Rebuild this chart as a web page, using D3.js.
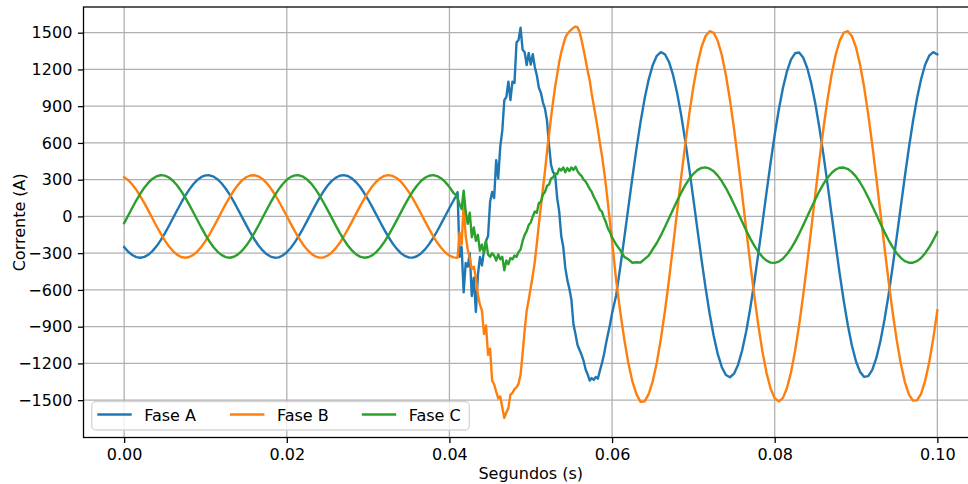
<!DOCTYPE html>
<html><head><meta charset="utf-8">
<script src="https://cdn.jsdelivr.net/npm/d3@7"></script>
<style>
body{margin:0;background:#fff;}
svg{display:block;font-family:"DejaVu Sans",sans-serif;}
</style>
</head><body>
<svg id="chart" width="968" height="484"></svg>
<script>
// ---------- DATA ----------
const seriesNames = ["Fase A", "Fase B", "Fase C"];
const seriesColors = ["#1f77b4", "#ff7f0e", "#2ca02c"];
const xTickValues = [0, 0.02, 0.04, 0.06, 0.08, 0.10];
const yTickValues = [-1500, -1200, -900, -600, -300, 0, 300, 600, 900, 1200, 1500];
const xLabel = "Segundos (s)";
const yLabel = "Corrente (A)";

// sample instants (s): pre-fault, fault transient (finer), post-fault
const timesPre = d3.range(82).map(i => +(i * 0.0005).toFixed(5));
const timesFault = d3.range(78).map(i => +(0.04075 + i * 0.00025).toFixed(5));
const timesPost = d3.range(80).map(i => +(0.0605 + i * 0.0005).toFixed(5));

// Fase A (A)
const faseA_pre = [-250,-288,-315,-332,-337,-330,-311,-281,-242,-193,-138,-78,-15,48,110,167,219,263,298,322,335,336,325,302,269,226,176,119,57,-6,-69,-130,-186,-235,-276,-307,-328,-337,-334,-319,-292,-256,-210,-157,-99,-36,27,90,149,203,
250,288,315,332,337,330,311,281,242,193,138,78,15,-48,-110,-167,-219,-263,-298,-322,-335,-336,-325,-302,-269,-226,-176,-119,-57,6,69,130];
const faseA_fault = [160,198,-330,-250,-620,-380,-410,-300,-650,-500,-780,-480,-330,-400,-280,-200,-160,120,200,150,460,310,570,700,950,975,1100,950,1100,1090,1420,1440,1540,1360,1340,1235,1335,1240,1325,1220,1150,1050,1010,930,880,780,580,420,360,340,150,40,-160,-250,-420,-520,-590,-680,-880,-960,-1050,-1090,-1130,-1180,-1250,-1290,-1340,-1320,-1335,-1310,-1325,-1260,-1200,-1130,-1040,-960,-880,-790];
const faseA_post = [-645,-418,-177,72,318,554,770,960,1117,1235,1311,1341,1324,1261,1155,1008,827,617,386,141,-107,-352,-583,-794,-976,-1124,-1231,-1295,-1313,-1284,-1210,-1093,-937,-747,-531,-296,-50,198,440,667,871,1045,1183,1280,1332,1338,1297,1212,1084,919,722,500,262,14,-233,-472,-694,-891,-1056,-1184,-1269,-1310,-1304,-1252,-1155,-1018,-843,-640,-413,-171,77,324,559,775,965,1120,1238,1312,1341,1323];

// Fase B (A)
const faseB_pre = [321,296,261,217,164,106,45,-19,-82,-141,-196,-244,-283,-312,-331,-337,-331,-314,-286,-247,-200,-146,-86,-24,40,102,160,213,258,294,320,334,336,327,306,274,232,183,126,65,2,-61,-122,-179,-229,-271,-304,-326,-336,-335,
-321,-296,-261,-217,-164,-106,-45,19,82,141,196,244,283,312,331,337,331,314,286,247,200,146,86,24,-40,-102,-160,-213,-258,-294,-320,-334];
const faseB_fault = [-336,-337,-130,-230,100,-160,-270,-340,-430,-410,-500,-640,-720,-770,-960,-890,-1130,-1080,-1340,-1370,-1430,-1485,-1470,-1560,-1645,-1600,-1565,-1455,-1440,-1410,-1395,-1365,-1290,-1120,-930,-770,-680,-580,-480,-370,-220,-60,80,230,370,530,670,810,940,1060,1160,1260,1340,1400,1460,1490,1510,1525,1540,1550,1545,1505,1440,1360,1275,1190,1110,1000,905,810,710,600,500,380,250,100,-50,-200];
const faseB_post = [-519,-775,-1003,-1196,-1347,-1451,-1514,-1510,-1450,-1346,-1195,-1001,-773,-517,-243,40,321,591,840,1060,1243,1382,1473,1512,1499,1432,1316,1153,950,714,452,175,-108,-387,-653,-896,-1107,-1279,-1407,-1484,-1510,-1483,-1403,-1274,-1101,-888,-645,-379,-99,184,461,722,957,1159,1320,1435,1500,1512,1471,1379,1238,1054,833,583,312,30,-252,-526,-780,-1008,-1200,-1350,-1453,-1504,-1502,-1448,-1343,-1191,-997,-767];

// Fase C (A)
const faseC_pre = [-55,8,71,132,187,237,277,308,328,337,333,318,291,254,208,155,96,34,-29,-92,-151,-205,-251,-289,-316,-332,-337,-329,-310,-280,-240,-191,-136,-76,-13,50,112,170,221,265,299,323,335,336,324,301,268,225,174,116,
55,-8,-71,-132,-187,-237,-277,-308,-328,-337,-333,-318,-291,-254,-208,-155,-96,-34,29,92,151,205,251,289,316,332,337,329,310,280,240,191];
const faseC_fault = [180,150,100,60,210,40,-60,30,-170,-90,-200,-150,-280,-230,-300,-200,-310,-330,-300,-320,-360,-310,-350,-330,-440,-360,-390,-340,-350,-320,-330,-290,-270,-200,-150,-120,-70,-50,0,40,30,110,120,180,200,250,260,310,320,350,345,390,375,400,360,395,370,400,380,405,370,345,330,300,285,255,225,200,160,130,95,55,40,-10,-50,-100,-130,-170];
const faseC_post = [-229,-275,-330,-350,-378,-374,-376,-348,-320,-268,-217,-155,-87,-15,57,128,194,255,307,348,378,396,400,390,368,333,287,232,168,100,28,-44,-115,-181,-240,-291,-332,-361,-377,-379,-369,-345,-309,-262,-206,-142,-73,-1,71,141,207,266,316,355,383,398,399,387,362,325,277,220,155,86,14,-58,-128,-193,-251,-300,-338,-365,-378,-378,-365,-339,-300,-252,-194,-129];

// ---------- BUILD ----------
const times = timesPre.concat(timesFault, timesPost);
const seriesValues = [
  faseA_pre.concat(faseA_fault, faseA_post),
  faseB_pre.concat(faseB_fault, faseB_post),
  faseC_pre.concat(faseC_fault, faseC_post)
];

const W = 968, H = 484;
const plot = {left: 83.5, top: 7, right: 978, bottom: 437.5};

const svg = d3.select("#chart");
svg.append("rect").attr("width", W).attr("height", H).attr("fill", "#fff");

const tExt = d3.extent(times);
const tPad = (tExt[1] - tExt[0]) * 0.05;
const allVals = seriesValues.flat();
const vExt = d3.extent(allVals);
const vPad = (vExt[1] - vExt[0]) * 0.05;

const x = d3.scaleLinear().domain([tExt[0] - tPad, tExt[1] + tPad]).range([plot.left, plot.right]);
const y = d3.scaleLinear().domain([vExt[0] - vPad, vExt[1] + vPad]).range([plot.bottom, plot.top]);

svg.append("defs").append("clipPath").attr("id", "clip")
  .append("rect").attr("x", plot.left).attr("y", plot.top)
  .attr("width", plot.right - plot.left).attr("height", plot.bottom - plot.top);

// grid
const grid = svg.append("g");
grid.selectAll("line.gx").data(xTickValues).join("line")
  .attr("x1", d => x(d)).attr("x2", d => x(d))
  .attr("y1", plot.top).attr("y2", plot.bottom)
  .attr("stroke", "#b0b0b0").attr("stroke-width", 1.28);
grid.selectAll("line.gy").data(yTickValues).join("line")
  .attr("y1", d => y(d)).attr("y2", d => y(d))
  .attr("x1", plot.left).attr("x2", plot.right)
  .attr("stroke", "#b0b0b0").attr("stroke-width", 1.28);

// lines
const lineGen = d3.line().x(d => x(d[0])).y(d => y(d[1]));
const linesG = svg.append("g").attr("clip-path", "url(#clip)");
seriesValues.forEach((vals, i) => {
  linesG.append("path")
    .datum(times.map((t, j) => [t, vals[j]]))
    .attr("d", lineGen)
    .attr("fill", "none")
    .attr("stroke", seriesColors[i])
    .attr("stroke-width", 2.4)
    .attr("stroke-linejoin", "round")
    .attr("stroke-linecap", "square");
});

// spines
svg.append("rect").attr("x", plot.left).attr("y", plot.top)
  .attr("width", plot.right - plot.left).attr("height", plot.bottom - plot.top)
  .attr("fill", "none").attr("stroke", "#000").attr("stroke-width", 1.28);

// axes
const fmtY = d => d3.format("d")(d).replace("-", "\u2212");
const xAxis = d3.axisBottom(x).tickValues(xTickValues).tickFormat(d3.format(".2f"))
  .tickSize(5.6).tickPadding(5.6).tickSizeOuter(0);
const yAxis = d3.axisLeft(y).tickValues(yTickValues).tickFormat(fmtY)
  .tickSize(5.6).tickPadding(5.6).tickSizeOuter(0);

const gx = svg.append("g").attr("transform", `translate(0,${plot.bottom})`).call(xAxis);
const gy = svg.append("g").attr("transform", `translate(${plot.left},0)`).call(yAxis);
[gx, gy].forEach(g => {
  g.select(".domain").remove();
  g.selectAll(".tick line").attr("stroke", "#000").attr("stroke-width", 1.28);
  g.selectAll(".tick text").attr("fill", "#000").attr("font-size", 16)
    .attr("font-family", "DejaVu Sans, sans-serif");
});

// axis labels
svg.append("text").attr("x", (plot.left + plot.right) / 2).attr("y", 479)
  .attr("text-anchor", "middle").attr("font-size", 16).attr("fill", "#000")
  .text(xLabel);
svg.append("text").attr("transform", `translate(25,${(plot.top + plot.bottom) / 2}) rotate(-90)`)
  .attr("text-anchor", "middle").attr("font-size", 16).attr("fill", "#000")
  .text(yLabel);

// legend
const leg = svg.append("g");
leg.append("rect").attr("x", 91.7).attr("y", 401.7).attr("width", 377.6).attr("height", 28.3)
  .attr("rx", 4).attr("ry", 4)
  .attr("fill", "#fff").attr("fill-opacity", 0.8)
  .attr("stroke", "#d6d6d6").attr("stroke-width", 1.28);
const legX = [97.3, 230, 361.8];
seriesNames.forEach((name, i) => {
  leg.append("line").attr("x1", legX[i]).attr("x2", legX[i] + 34.4)
    .attr("y1", 414.5).attr("y2", 414.5)
    .attr("stroke", seriesColors[i]).attr("stroke-width", 2.4);
  leg.append("text").attr("x", legX[i] + 46.9).attr("y", 420.6)
    .attr("font-size", 16).attr("fill", "#000").text(name);
});
</script>
</body></html>
